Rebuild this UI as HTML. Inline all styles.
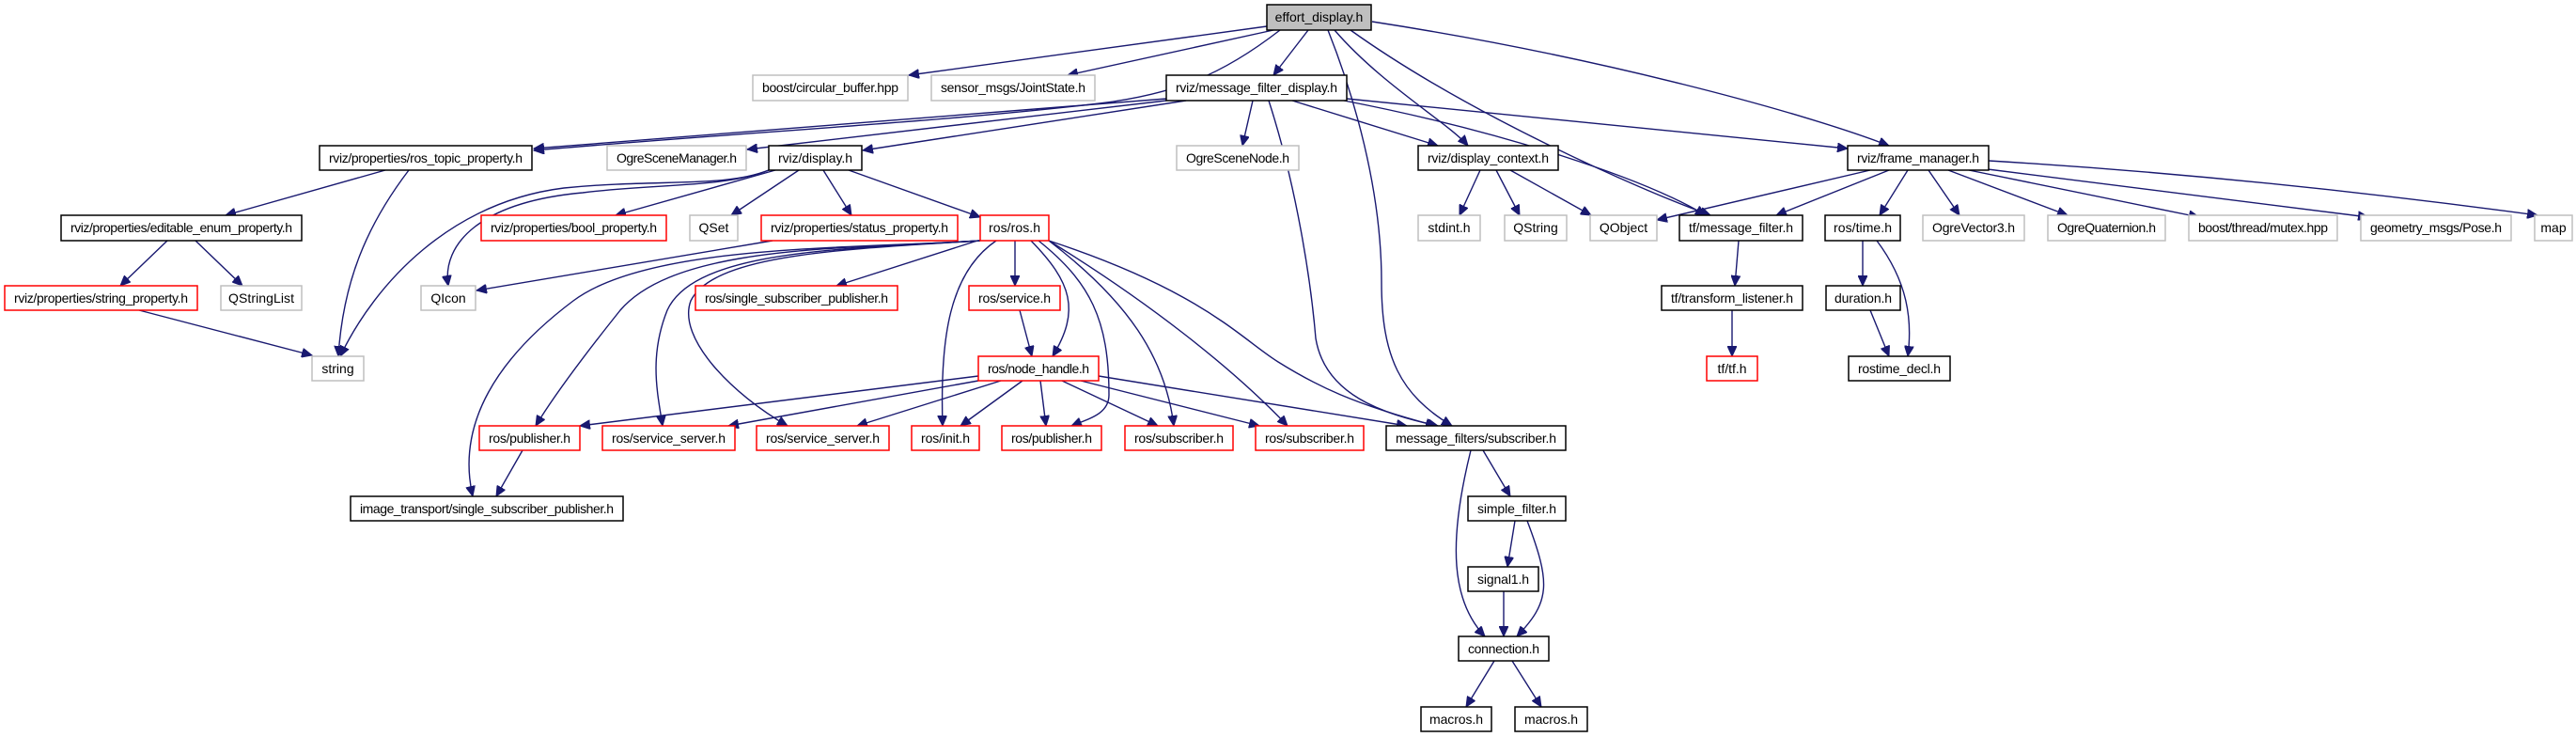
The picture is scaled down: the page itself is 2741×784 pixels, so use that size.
<!DOCTYPE html>
<html><head><meta charset="utf-8"><style>
html,body{margin:0;padding:0;background:#fff;width:2741px;height:784px;overflow:hidden}
svg text{font-family:"Liberation Sans",Arial,sans-serif;font-size:14px;fill:#000}
.e{fill:none;stroke:#191970;stroke-width:1.4;marker-end:url(#a)}
.b{fill:#fff;stroke:#000;stroke-width:1.5}
.g{fill:#fff;stroke:#bfbfbf;stroke-width:1.5}
.r{fill:#fff;stroke:#ff0000;stroke-width:1.5}
</style></head><body>
<svg width="2741" height="784" viewBox="0 0 2741 784" xmlns="http://www.w3.org/2000/svg">
<defs><marker id="a" markerUnits="userSpaceOnUse" markerWidth="12" markerHeight="10" refX="11" refY="5" orient="auto"><path d="M0,0 L11,5 L0,10 z" fill="#191970" stroke="#191970"/></marker></defs>
<g>
<path class="e" d="M1348,28 L967,80"/>
<path class="e" d="M1355,32 L1136,80"/>
<path class="e" d="M1392,32 L1355,80"/>
<path class="e" d="M1362,32 C1300,80 1250,100 1170,110 C1000,130 800,140 568,160"/>
<path class="e" d="M1420,32 C1470,90 1540,130 1562,155"/>
<path class="e" d="M1437,32 C1560,120 1740,200 1820,229"/>
<path class="e" d="M1413,32 C1440,100 1470,200 1470,300 C1470,380 1490,420 1545,453"/>
<path class="e" d="M1460,23 C1700,60 1920,120 2010,155"/>
<path class="e" d="M1241,105 L568,158"/>
<path class="e" d="M1241,107 L795,159"/>
<path class="e" d="M1262,107 L918,160"/>
<path class="e" d="M1333,107 L1322,155"/>
<path class="e" d="M1350,107 C1380,200 1395,300 1400,360 C1410,420 1470,440 1530,453"/>
<path class="e" d="M1375,107 L1530,155"/>
<path class="e" d="M1430,107 C1600,140 1750,190 1815,229"/>
<path class="e" d="M1433,105 L1966,158"/>
<path class="e" d="M818,181 C770,200 700,190 600,200 C480,215 400,300 362,379"/>
<path class="e" d="M818,181 C770,200 700,195 620,205 C510,215 470,260 477,304"/>
<path class="e" d="M825,181 L655,229"/>
<path class="e" d="M850,181 L778,229"/>
<path class="e" d="M876,181 L906,229"/>
<path class="e" d="M903,181 L1043,231"/>
<path class="e" d="M410,181 L240,229"/>
<path class="e" d="M435,181 C390,240 365,300 360,379"/>
<path class="e" d="M178,256 L128,304"/>
<path class="e" d="M208,256 L258,304"/>
<path class="e" d="M148,330 L332,378"/>
<path class="e" d="M822,256 L507,309"/>
<path class="e" d="M1040,256 L890,304"/>
<path class="e" d="M1080,256 L1080,304"/>
<path class="e" d="M1097,256 C1140,300 1150,330 1120,379"/>
<path class="e" d="M1043,256 C900,265 690,260 610,320 C530,380 485,450 503,528"/>
<path class="e" d="M1043,256 C900,265 720,260 660,330 C620,380 590,420 570,453"/>
<path class="e" d="M1043,256 C900,265 740,265 710,330 C690,380 700,420 705,453"/>
<path class="e" d="M1043,256 C900,265 760,270 735,320 C720,360 780,420 838,453"/>
<path class="e" d="M1060,256 C1010,290 1000,360 1003,453"/>
<path class="e" d="M1105,256 C1160,300 1180,340 1180,420 C1180,440 1160,445 1140,453"/>
<path class="e" d="M1116,256 C1200,320 1240,380 1249,453"/>
<path class="e" d="M1116,256 C1220,320 1310,390 1370,453"/>
<path class="e" d="M1116,256 C1280,310 1320,360 1360,385 C1400,410 1440,430 1528,453"/>
<path class="e" d="M1085,330 L1098,379"/>
<path class="e" d="M1041,400 L617,453"/>
<path class="e" d="M1041,405 L775,453"/>
<path class="e" d="M1065,405 L912,453"/>
<path class="e" d="M1088,405 L1022,453"/>
<path class="e" d="M1107,405 L1113,453"/>
<path class="e" d="M1130,405 L1232,453"/>
<path class="e" d="M1150,405 L1340,453"/>
<path class="e" d="M1169,400 L1497,453"/>
<path class="e" d="M556,479 L528,528"/>
<path class="e" d="M1575,181 L1553,229"/>
<path class="e" d="M1592,181 L1617,229"/>
<path class="e" d="M1607,181 L1693,229"/>
<path class="e" d="M1990,181 L1763,234"/>
<path class="e" d="M2010,181 L1890,229"/>
<path class="e" d="M2030,181 L2000,229"/>
<path class="e" d="M2052,181 L2085,229"/>
<path class="e" d="M2073,181 L2200,229"/>
<path class="e" d="M2095,181 L2340,231"/>
<path class="e" d="M2115,180 L2520,231"/>
<path class="e" d="M2116,171 C2350,185 2560,210 2700,229"/>
<path class="e" d="M1850,256 L1846,304"/>
<path class="e" d="M1843,330 L1843,379"/>
<path class="e" d="M1982,256 L1982,304"/>
<path class="e" d="M1997,256 C2030,300 2035,340 2030,379"/>
<path class="e" d="M1990,330 L2010,379"/>
<path class="e" d="M1578,479 L1607,528"/>
<path class="e" d="M1565,479 C1540,580 1545,640 1580,677"/>
<path class="e" d="M1612,554 L1604,603"/>
<path class="e" d="M1625,554 C1650,620 1650,640 1614,677"/>
<path class="e" d="M1600,629 L1600,677"/>
<path class="e" d="M1590,703 L1560,752"/>
<path class="e" d="M1609,703 L1640,752"/>
</g>
<g>
<rect x="1348" y="5" width="111" height="27" fill="#bfbfbf" stroke="#000" stroke-width="1.5"/><text x="1403.5" y="23" text-anchor="middle">effort_display.h</text>
<rect class="g" x="801" y="80" width="165" height="27"/><text x="883.5" y="98" text-anchor="middle" textLength="145">boost/circular_buffer.hpp</text>
<rect class="g" x="991" y="80" width="174" height="27"/><text x="1078" y="98" text-anchor="middle" textLength="154">sensor_msgs/JointState.h</text>
<rect class="b" x="1241" y="80" width="192" height="27"/><text x="1337" y="98" text-anchor="middle" textLength="172">rviz/message_filter_display.h</text>
<rect class="b" x="340" y="155" width="226" height="26"/><text x="453" y="173" text-anchor="middle" textLength="206">rviz/properties/ros_topic_property.h</text>
<rect class="g" x="646" y="155" width="148" height="26"/><text x="720" y="173" text-anchor="middle" textLength="128">OgreSceneManager.h</text>
<rect class="b" x="818" y="155" width="99" height="26"/><text x="867.5" y="173" text-anchor="middle" textLength="79">rviz/display.h</text>
<rect class="g" x="1252" y="155" width="130" height="26"/><text x="1317" y="173" text-anchor="middle" textLength="110">OgreSceneNode.h</text>
<rect class="b" x="1509" y="155" width="149" height="26"/><text x="1583.5" y="173" text-anchor="middle" textLength="129">rviz/display_context.h</text>
<rect class="b" x="1966" y="155" width="150" height="26"/><text x="2041" y="173" text-anchor="middle" textLength="130">rviz/frame_manager.h</text>
<rect class="b" x="65" y="229" width="256" height="27"/><text x="193" y="247" text-anchor="middle" textLength="236">rviz/properties/editable_enum_property.h</text>
<rect class="r" x="512" y="229" width="197" height="27"/><text x="610.5" y="247" text-anchor="middle" textLength="177">rviz/properties/bool_property.h</text>
<rect class="g" x="734" y="229" width="51" height="27"/><text x="759.5" y="247" text-anchor="middle">QSet</text>
<rect class="r" x="810" y="229" width="209" height="27"/><text x="914.5" y="247" text-anchor="middle" textLength="189">rviz/properties/status_property.h</text>
<rect class="r" x="1043" y="229" width="73" height="27"/><text x="1079.5" y="247" text-anchor="middle" textLength="55">ros/ros.h</text>
<rect class="g" x="1509" y="229" width="66" height="27"/><text x="1542" y="247" text-anchor="middle">stdint.h</text>
<rect class="g" x="1601" y="229" width="66" height="27"/><text x="1634" y="247" text-anchor="middle">QString</text>
<rect class="g" x="1692" y="229" width="71" height="27"/><text x="1727.5" y="247" text-anchor="middle">QObject</text>
<rect class="b" x="1787" y="229" width="131" height="27"/><text x="1852.5" y="247" text-anchor="middle" textLength="111">tf/message_filter.h</text>
<rect class="b" x="1942" y="229" width="80" height="27"/><text x="1982" y="247" text-anchor="middle" textLength="62">ros/time.h</text>
<rect class="g" x="2046" y="229" width="108" height="27"/><text x="2100" y="247" text-anchor="middle" textLength="88">OgreVector3.h</text>
<rect class="g" x="2179" y="229" width="125" height="27"/><text x="2241.5" y="247" text-anchor="middle" textLength="105">OgreQuaternion.h</text>
<rect class="g" x="2329" y="229" width="158" height="27"/><text x="2408" y="247" text-anchor="middle" textLength="138">boost/thread/mutex.hpp</text>
<rect class="g" x="2512" y="229" width="160" height="27"/><text x="2592" y="247" text-anchor="middle" textLength="140">geometry_msgs/Pose.h</text>
<rect class="g" x="2697" y="229" width="40" height="27"/><text x="2717" y="247" text-anchor="middle">map</text>
<rect class="r" x="5" y="304" width="205" height="26"/><text x="107.5" y="322" text-anchor="middle" textLength="185">rviz/properties/string_property.h</text>
<rect class="g" x="235" y="304" width="86" height="26"/><text x="278" y="322" text-anchor="middle" textLength="70">QStringList</text>
<rect class="g" x="448" y="304" width="58" height="26"/><text x="477" y="322" text-anchor="middle">QIcon</text>
<rect class="r" x="740" y="304" width="215" height="26"/><text x="847.5" y="322" text-anchor="middle" textLength="195">ros/single_subscriber_publisher.h</text>
<rect class="r" x="1031" y="304" width="97" height="26"/><text x="1079.5" y="322" text-anchor="middle" textLength="77">ros/service.h</text>
<rect class="b" x="1768" y="304" width="150" height="26"/><text x="1843" y="322" text-anchor="middle" textLength="130">tf/transform_listener.h</text>
<rect class="b" x="1943" y="304" width="79" height="26"/><text x="1982.5" y="322" text-anchor="middle" textLength="61">duration.h</text>
<rect class="g" x="332" y="379" width="55" height="26"/><text x="359.5" y="397" text-anchor="middle">string</text>
<rect class="r" x="1041" y="379" width="128" height="26"/><text x="1105" y="397" text-anchor="middle" textLength="108">ros/node_handle.h</text>
<rect class="r" x="1816" y="379" width="54" height="26"/><text x="1843" y="397" text-anchor="middle">tf/tf.h</text>
<rect class="b" x="1967" y="379" width="108" height="26"/><text x="2021" y="397" text-anchor="middle" textLength="88">rostime_decl.h</text>
<rect class="r" x="510" y="453" width="107" height="26"/><text x="563.5" y="471" text-anchor="middle" textLength="87">ros/publisher.h</text>
<rect class="r" x="641" y="453" width="141" height="26"/><text x="711.5" y="471" text-anchor="middle" textLength="121">ros/service_server.h</text>
<rect class="r" x="805" y="453" width="141" height="26"/><text x="875.5" y="471" text-anchor="middle" textLength="121">ros/service_server.h</text>
<rect class="r" x="970" y="453" width="72" height="26"/><text x="1006" y="471" text-anchor="middle" textLength="52">ros/init.h</text>
<rect class="r" x="1066" y="453" width="106" height="26"/><text x="1119" y="471" text-anchor="middle" textLength="86">ros/publisher.h</text>
<rect class="r" x="1197" y="453" width="115" height="26"/><text x="1254.5" y="471" text-anchor="middle" textLength="95">ros/subscriber.h</text>
<rect class="r" x="1336" y="453" width="115" height="26"/><text x="1393.5" y="471" text-anchor="middle" textLength="95">ros/subscriber.h</text>
<rect class="b" x="1475" y="453" width="191" height="26"/><text x="1570.5" y="471" text-anchor="middle" textLength="171">message_filters/subscriber.h</text>
<rect class="b" x="373" y="528" width="290" height="26"/><text x="518" y="546" text-anchor="middle" textLength="270">image_transport/single_subscriber_publisher.h</text>
<rect class="b" x="1562" y="528" width="104" height="26"/><text x="1614" y="546" text-anchor="middle" textLength="84">simple_filter.h</text>
<rect class="b" x="1562" y="603" width="75" height="26"/><text x="1599.5" y="621" text-anchor="middle" textLength="55">signal1.h</text>
<rect class="b" x="1552" y="677" width="96" height="26"/><text x="1600" y="695" text-anchor="middle" textLength="76">connection.h</text>
<rect class="b" x="1512" y="752" width="75" height="26"/><text x="1549.5" y="770" text-anchor="middle" textLength="57">macros.h</text>
<rect class="b" x="1612" y="752" width="77" height="26"/><text x="1650.5" y="770" text-anchor="middle" textLength="57">macros.h</text>
</g>
</svg>
</body></html>
